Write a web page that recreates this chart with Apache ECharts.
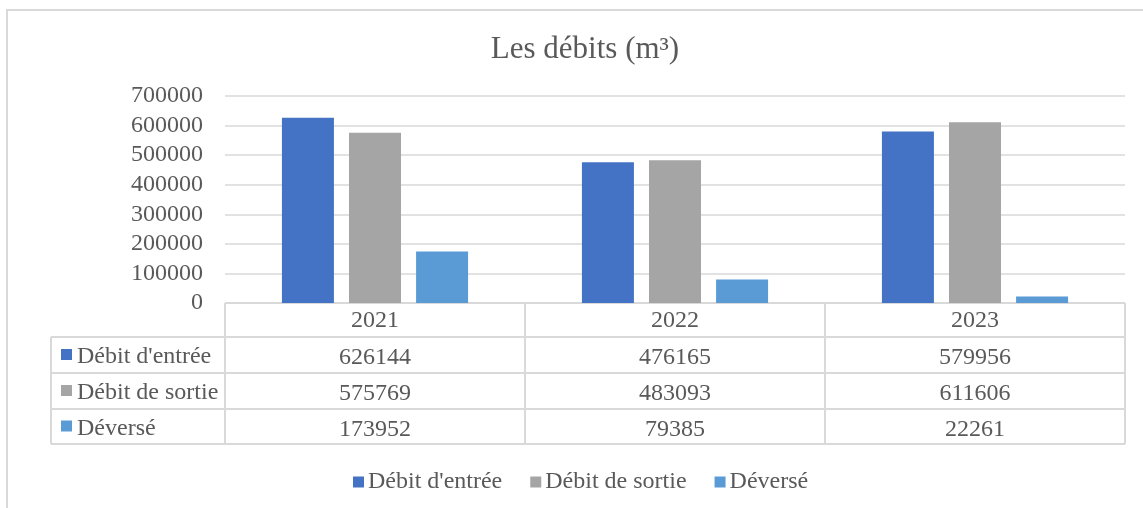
<!DOCTYPE html>
<html>
<head>
<meta charset="utf-8">
<script src="https://cdn.jsdelivr.net/npm/echarts@6/dist/echarts.min.js"></script>
<style>
html,body{margin:0;padding:0;background:#fff;}
#c{width:1143px;height:508px;}
</style>
</head>
<body>
<div id="c"></div>
<script>
const categories = ['2021', '2022', '2023'];
const debitEntree = [626144, 476165, 579956];
const debitSortie = [575769, 483093, 611606];
const deverse = [173952, 79385, 22261];
const seriesNames = ["Débit d'entrée", 'Débit de sortie', 'Déversé'];
const yMin = 0, yMax = 700000, yStep = 100000;
const titleText = 'Les débits (m³)';

const FONT = 'Liberation Serif';
const FS = 24;
const TXT = '#595959';
const LINE = '#D9D9D9';
const colors = ['#4472C4', '#A5A5A5', '#5B9BD5'];
const seriesData = [debitEntree, debitSortie, deverse];

// layout
const gLeft = 225, gRight = 1125, gTop = 96, gBottom = 303;
const rowBounds = [303, 337, 373, 409, 444];
const labelColLeft = 51;
const catW = (gRight - gLeft) / categories.length;

const chart = echarts.init(document.getElementById('c'), null, {renderer: 'canvas'});

const xAxes = [{
  type: 'category', data: categories, gridIndex: 0, position: 'bottom',
  axisLine: {show: false}, axisTick: {show: false}, splitLine: {show: false},
  axisLabel: {color: TXT, fontFamily: FONT, fontSize: FS, margin: 6}
}];
seriesData.forEach((arr, i) => {
  xAxes.push({
    type: 'category', data: arr.map(v => String(v)), gridIndex: 0, position: 'bottom',
    offset: rowBounds[i + 1] - rowBounds[0],
    axisLine: {show: false}, axisTick: {show: false}, splitLine: {show: false},
    axisLabel: {color: TXT, fontFamily: FONT, fontSize: FS, margin: 9}
  });
});

const graphics = [];
// outer border
graphics.push({type: 'rect', shape: {x: 7, y: 10, width: 1160, height: 520},
  style: {fill: 'none', stroke: LINE, lineWidth: 2}, silent: true});
// table horizontal lines
rowBounds.forEach((y, i) => {
  graphics.push({type: 'line', shape: {x1: i === 0 ? gLeft : labelColLeft, y1: y, x2: gRight, y2: y},
    style: {stroke: LINE, lineWidth: 2}, silent: true});
});
// vertical lines
for (let k = 0; k <= categories.length; k++) {
  const x = gLeft + k * catW;
  graphics.push({type: 'line', shape: {x1: x, y1: rowBounds[0], x2: x, y2: rowBounds[rowBounds.length - 1]},
    style: {stroke: LINE, lineWidth: 2}, silent: true});
}
graphics.push({type: 'line', shape: {x1: labelColLeft, y1: rowBounds[1], x2: labelColLeft, y2: rowBounds[rowBounds.length - 1]},
  style: {stroke: LINE, lineWidth: 2}, silent: true});
// row labels with keys
seriesNames.forEach((name, i) => {
  const cy = (rowBounds[i + 1] + rowBounds[i + 2]) / 2;
  graphics.push({type: 'rect', shape: {x: 61, y: cy - 6, width: 11, height: 11},
    style: {fill: colors[i]}, silent: true});
  graphics.push({type: 'text', x: 77, y: cy + 2,
    style: {text: name, fill: TXT, fontFamily: FONT, fontSize: FS, verticalAlign: 'middle', align: 'left'}, silent: true});
});

const option = {
  animation: false,
  backgroundColor: '#fff',
  title: {
    text: titleText, left: 580, top: 29, textAlign: 'center',
    textStyle: {color: TXT, fontFamily: FONT, fontSize: 31, fontWeight: 'normal'}
  },
  legend: {
    data: seriesNames, left: 348, top: 465, itemWidth: 11, itemHeight: 11, itemGap: 28,
    icon: 'rect',
    textStyle: {color: TXT, fontFamily: FONT, fontSize: FS, padding: [0, 0, 0, -1]}
  },
  grid: {left: gLeft, right: 1143 - gRight, top: gTop, bottom: 508 - gBottom, containLabel: false},
  xAxis: xAxes,
  yAxis: {
    type: 'value', min: yMin, max: yMax, interval: yStep,
    axisLine: {show: false}, axisTick: {show: false},
    splitLine: {lineStyle: {color: LINE, width: 1.5}},
    axisLabel: {color: TXT, fontFamily: FONT, fontSize: FS, margin: 22, formatter: v => String(v)}
  },
  series: seriesNames.map((name, i) => ({
    name: name, type: 'bar', xAxisIndex: 0, data: seriesData[i],
    barWidth: 52, barGap: '29%',
    itemStyle: {color: colors[i]}
  })),
  graphic: graphics
};
chart.setOption(option);
</script>
</body>
</html>
